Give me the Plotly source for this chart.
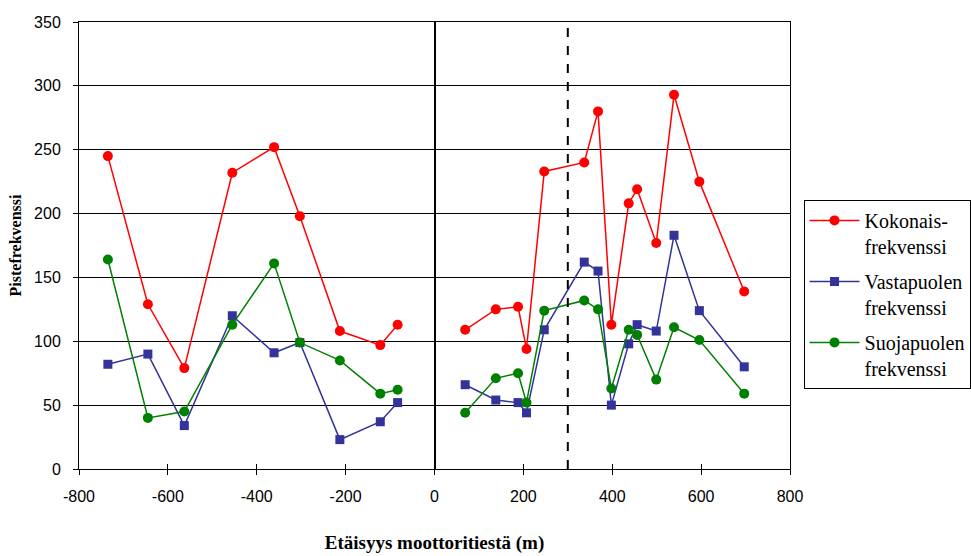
import plotly.graph_objects as go

distance = [-735, -645, -563, -455, -361, -303, -213, -122, -83,
            69, 138, 188, 207, 247, 337, 368, 398, 437, 456, 499, 539, 596, 697]
kokonais = [245, 129, 79, 232, 252, 198, 108, 97, 113,
            109, 125, 127, 94, 233, 240, 280, 113, 208, 219, 177, 293, 225, 139]
vastapuolen = [82, 90, 34, 120, 91, 99, 23, 37, 52,
               66, 54, 52, 44, 109, 162, 155, 50, 98, 113, 108, 183, 124, 80]
suojapuolen = [164, 40, 45, 113, 161, 99, 85, 59, 62,
               44, 71, 75, 52, 124, 132, 125, 63, 109, 105, 70, 111, 101, 59]

names = ["Kokonais-<br>frekvenssi", "Vastapuolen<br>frekvenssi", "Suojapuolen<br>frekvenssi"]
x_ticks = [-800, -600, -400, -200, 0, 200, 400, 600, 800]
x_ticktext = ["-800", "-600", "-400", "-200", "0", "200", "400", "600", "800"]
y_ticks = [0, 50, 100, 150, 200, 250, 300, 350]
boundary_x = 300

left_idx = list(range(9))
right_idx = list(range(9, len(distance)))

def split(vals):
    xs, ys = [], []
    for i in left_idx:
        xs.append(distance[i]); ys.append(vals[i])
    xs.append(None); ys.append(None)
    for i in right_idx:
        xs.append(distance[i]); ys.append(vals[i])
    return xs, ys

fig = go.Figure()
series = [(kokonais, "#FF0000", "circle"), (vastapuolen, "#333399", "square"), (suojapuolen, "#008000", "circle")]
for (vals, col, sym), nm in zip(series, names):
    xs, ys = split(vals)
    fig.add_trace(go.Scatter(x=xs, y=ys, name=nm, mode="lines+markers",
                             line=dict(color=col, width=1.5),
                             marker=dict(color=col, symbol=sym, size=10 if sym == "circle" else 9),
                             connectgaps=False, legendgroup=nm))

# secondary axes for crossing tick marks
fig.add_trace(go.Scatter(x=[None], y=[None], xaxis="x2", yaxis="y2", showlegend=False, hoverinfo="skip"))

fig.add_shape(type="line", xref="x", yref="paper", x0=boundary_x, x1=boundary_x, y0=0, y1=1,
              line=dict(color="black", width=2, dash="dash"))

serif = "Times New Roman, Liberation Serif, serif"
tickfont = dict(family="Arial, Liberation Sans, sans-serif", size=16, color="black")
fig.update_layout(
    width=971, height=556,
    margin=dict(l=79, r=181, t=22, b=87, autoexpand=False),
    paper_bgcolor="white", plot_bgcolor="white",
    showlegend=True,
    xaxis=dict(range=[-800, 800], tickvals=x_ticks, ticktext=x_ticktext, ticks="outside", ticklen=5, tickcolor="black",
               showline=True, linecolor="black", linewidth=1, mirror=True,
               showgrid=False, zeroline=True, zerolinecolor="black", zerolinewidth=1.5,
               tickfont=tickfont, ticklabelstandoff=8,
               title=dict(text="Etäisyys moottoritiestä (m)",
                          font=dict(family=serif, size=19, color="black", weight="bold"),
                          standoff=31)),
    yaxis=dict(range=[0, 350], tickvals=y_ticks, ticks="outside", ticklen=5, tickcolor="black",
               showline=True, linecolor="black", linewidth=1, mirror=True,
               showgrid=True, gridcolor="black", gridwidth=1, zeroline=False,
               tickfont=tickfont, ticklabelstandoff=9,
               title=dict(text="Pistefrekvenssi",
                          font=dict(family=serif, size=16, color="black", weight="bold"),
                          standoff=8)),
    xaxis2=dict(range=[-800, 800], tickvals=x_ticks, ticks="inside", ticklen=5, tickcolor="black",
                overlaying="x", side="bottom", showticklabels=False, showgrid=False, zeroline=False, showline=False),
    yaxis2=dict(range=[0, 350], tickvals=y_ticks, ticks="inside", ticklen=5, tickcolor="black",
                overlaying="y", side="left", showticklabels=False, showgrid=False, zeroline=False, showline=False),
    legend=dict(x=1.019, y=0.602, xanchor="left", yanchor="top",
                bordercolor="black", borderwidth=1, bgcolor="white",
                font=dict(family=serif, size=20, color="black"),
                valign="top", itemwidth=50, tracegroupgap=6, entrywidth=250),
)

fig.write_html("out.html")
